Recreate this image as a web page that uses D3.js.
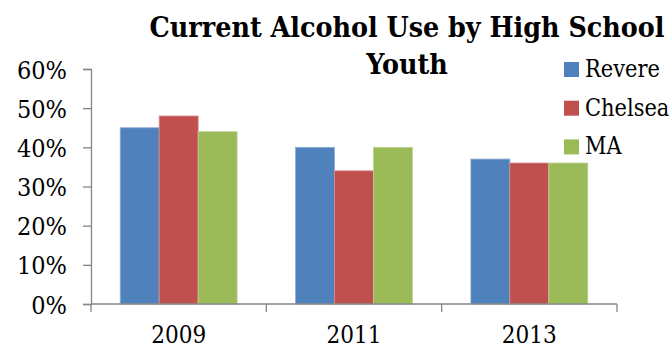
<!DOCTYPE html>
<html>
<head>
<meta charset="utf-8">
<script src="https://cdn.jsdelivr.net/npm/d3@7"></script>
<style>
  html, body { margin: 0; padding: 0; background: #fff; }
  svg { display: block; }
  .lbl { font-family: "DejaVu Serif Condensed", "DejaVu Serif", serif; fill: #000; }
</style>
</head>
<body>
<svg id="chart" width="672" height="349"></svg>
<script>
// Current alcohol use among high school youth, by community and survey year
const years = ["2009", "2011", "2013"];
const seriesNames = ["Revere", "Chelsea", "MA"];
const revere = [0.45, 0.40, 0.37];
const chelsea = [0.48, 0.34, 0.36];
const ma = [0.44, 0.40, 0.36];
const seriesColors = ["#4F81BD", "#C0504D", "#9BBB59"];
const yTicks = [0, 0.1, 0.2, 0.3, 0.4, 0.5, 0.6];
const titleLines = ["Current Alcohol Use by High School", "Youth"];

const seriesValues = [revere, chelsea, ma];
const rows = years.map((yr, i) => ({
  year: yr,
  values: seriesNames.map((s, j) => ({ series: s, value: seriesValues[j][i], color: seriesColors[j] }))
}));

const svg = d3.select("#chart");
const plot = { left: 91, right: 617, top: 69, bottom: 304 };

const x = d3.scaleBand().domain(years).range([plot.left, plot.right]).padding(0);
const xInner = d3.scaleBand().domain(seriesNames).range([0, x.bandwidth()])
  .paddingInner(0).paddingOuter(0.75);
const y = d3.scaleLinear().domain([0, 0.6]).range([plot.bottom, plot.top]);

// bars
const groups = svg.append("g").selectAll("g").data(rows).join("g")
  .attr("transform", d => `translate(${x(d.year)},0)`);
groups.selectAll("rect").data(d => d.values).join("rect")
  .attr("x", d => xInner(d.series))
  .attr("y", d => y(d.value))
  .attr("width", xInner.bandwidth())
  .attr("height", d => y(0) - y(d.value))
  .attr("fill", d => d.color)
  .attr("stroke", d => d3.interpolateRgb(d.color, "#fff")(0.35))
  .attr("stroke-width", 0.8);

// y axis
const yAxis = d3.axisLeft(y).tickValues(yTicks).tickFormat(d3.format(".0%")).tickSize(8).tickPadding(16);
const gy = svg.append("g").attr("transform", `translate(${plot.left},0)`).call(yAxis);
gy.select(".domain").attr("stroke", "#868686").attr("stroke-width", 1.3);
gy.selectAll(".tick line").attr("stroke", "#868686").attr("stroke-width", 1.3);
gy.selectAll(".tick text").attr("class", "lbl").style("font-size", "25px")
  .attr("dy", "0.36em");

// x axis: tick marks sit on category boundaries, labels centered in each band
const bounds = [...years.map(d => x(d)), plot.right];
svg.append("line")
  .attr("x1", plot.left).attr("x2", plot.right)
  .attr("y1", y(0)).attr("y2", y(0))
  .attr("stroke", "#868686").attr("stroke-width", 1.3);
svg.append("g").selectAll("line").data(bounds).join("line")
  .attr("x1", d => d).attr("x2", d => d)
  .attr("y1", y(0)).attr("y2", y(0) + 8)
  .attr("stroke", "#868686").attr("stroke-width", 1.3);
svg.append("g").selectAll("text").data(years).join("text")
  .attr("class", "lbl")
  .attr("x", d => x(d) + x.bandwidth() / 2)
  .attr("y", 343)
  .attr("text-anchor", "middle")
  .style("font-size", "24px")
  .text(d => d);

// title
svg.append("g").selectAll("text").data(titleLines).join("text")
  .attr("class", "lbl")
  .attr("x", 407)
  .attr("y", (d, i) => 37 + i * 37)
  .attr("text-anchor", "middle")
  .style("font-size", "28.3px")
  .style("font-weight", "bold")
  .text(d => d);

// legend
const legend = svg.append("g").selectAll("g").data(seriesNames).join("g")
  .attr("transform", (d, i) => `translate(564,${62 + i * 38.7})`);
legend.append("rect")
  .attr("width", 15).attr("height", 15)
  .attr("fill", (d, i) => seriesColors[i]);
legend.append("text")
  .attr("class", "lbl")
  .attr("x", 21)
  .attr("y", 15)
  .style("font-size", "23.3px")
  .text(d => d);
</script>
</body>
</html>
